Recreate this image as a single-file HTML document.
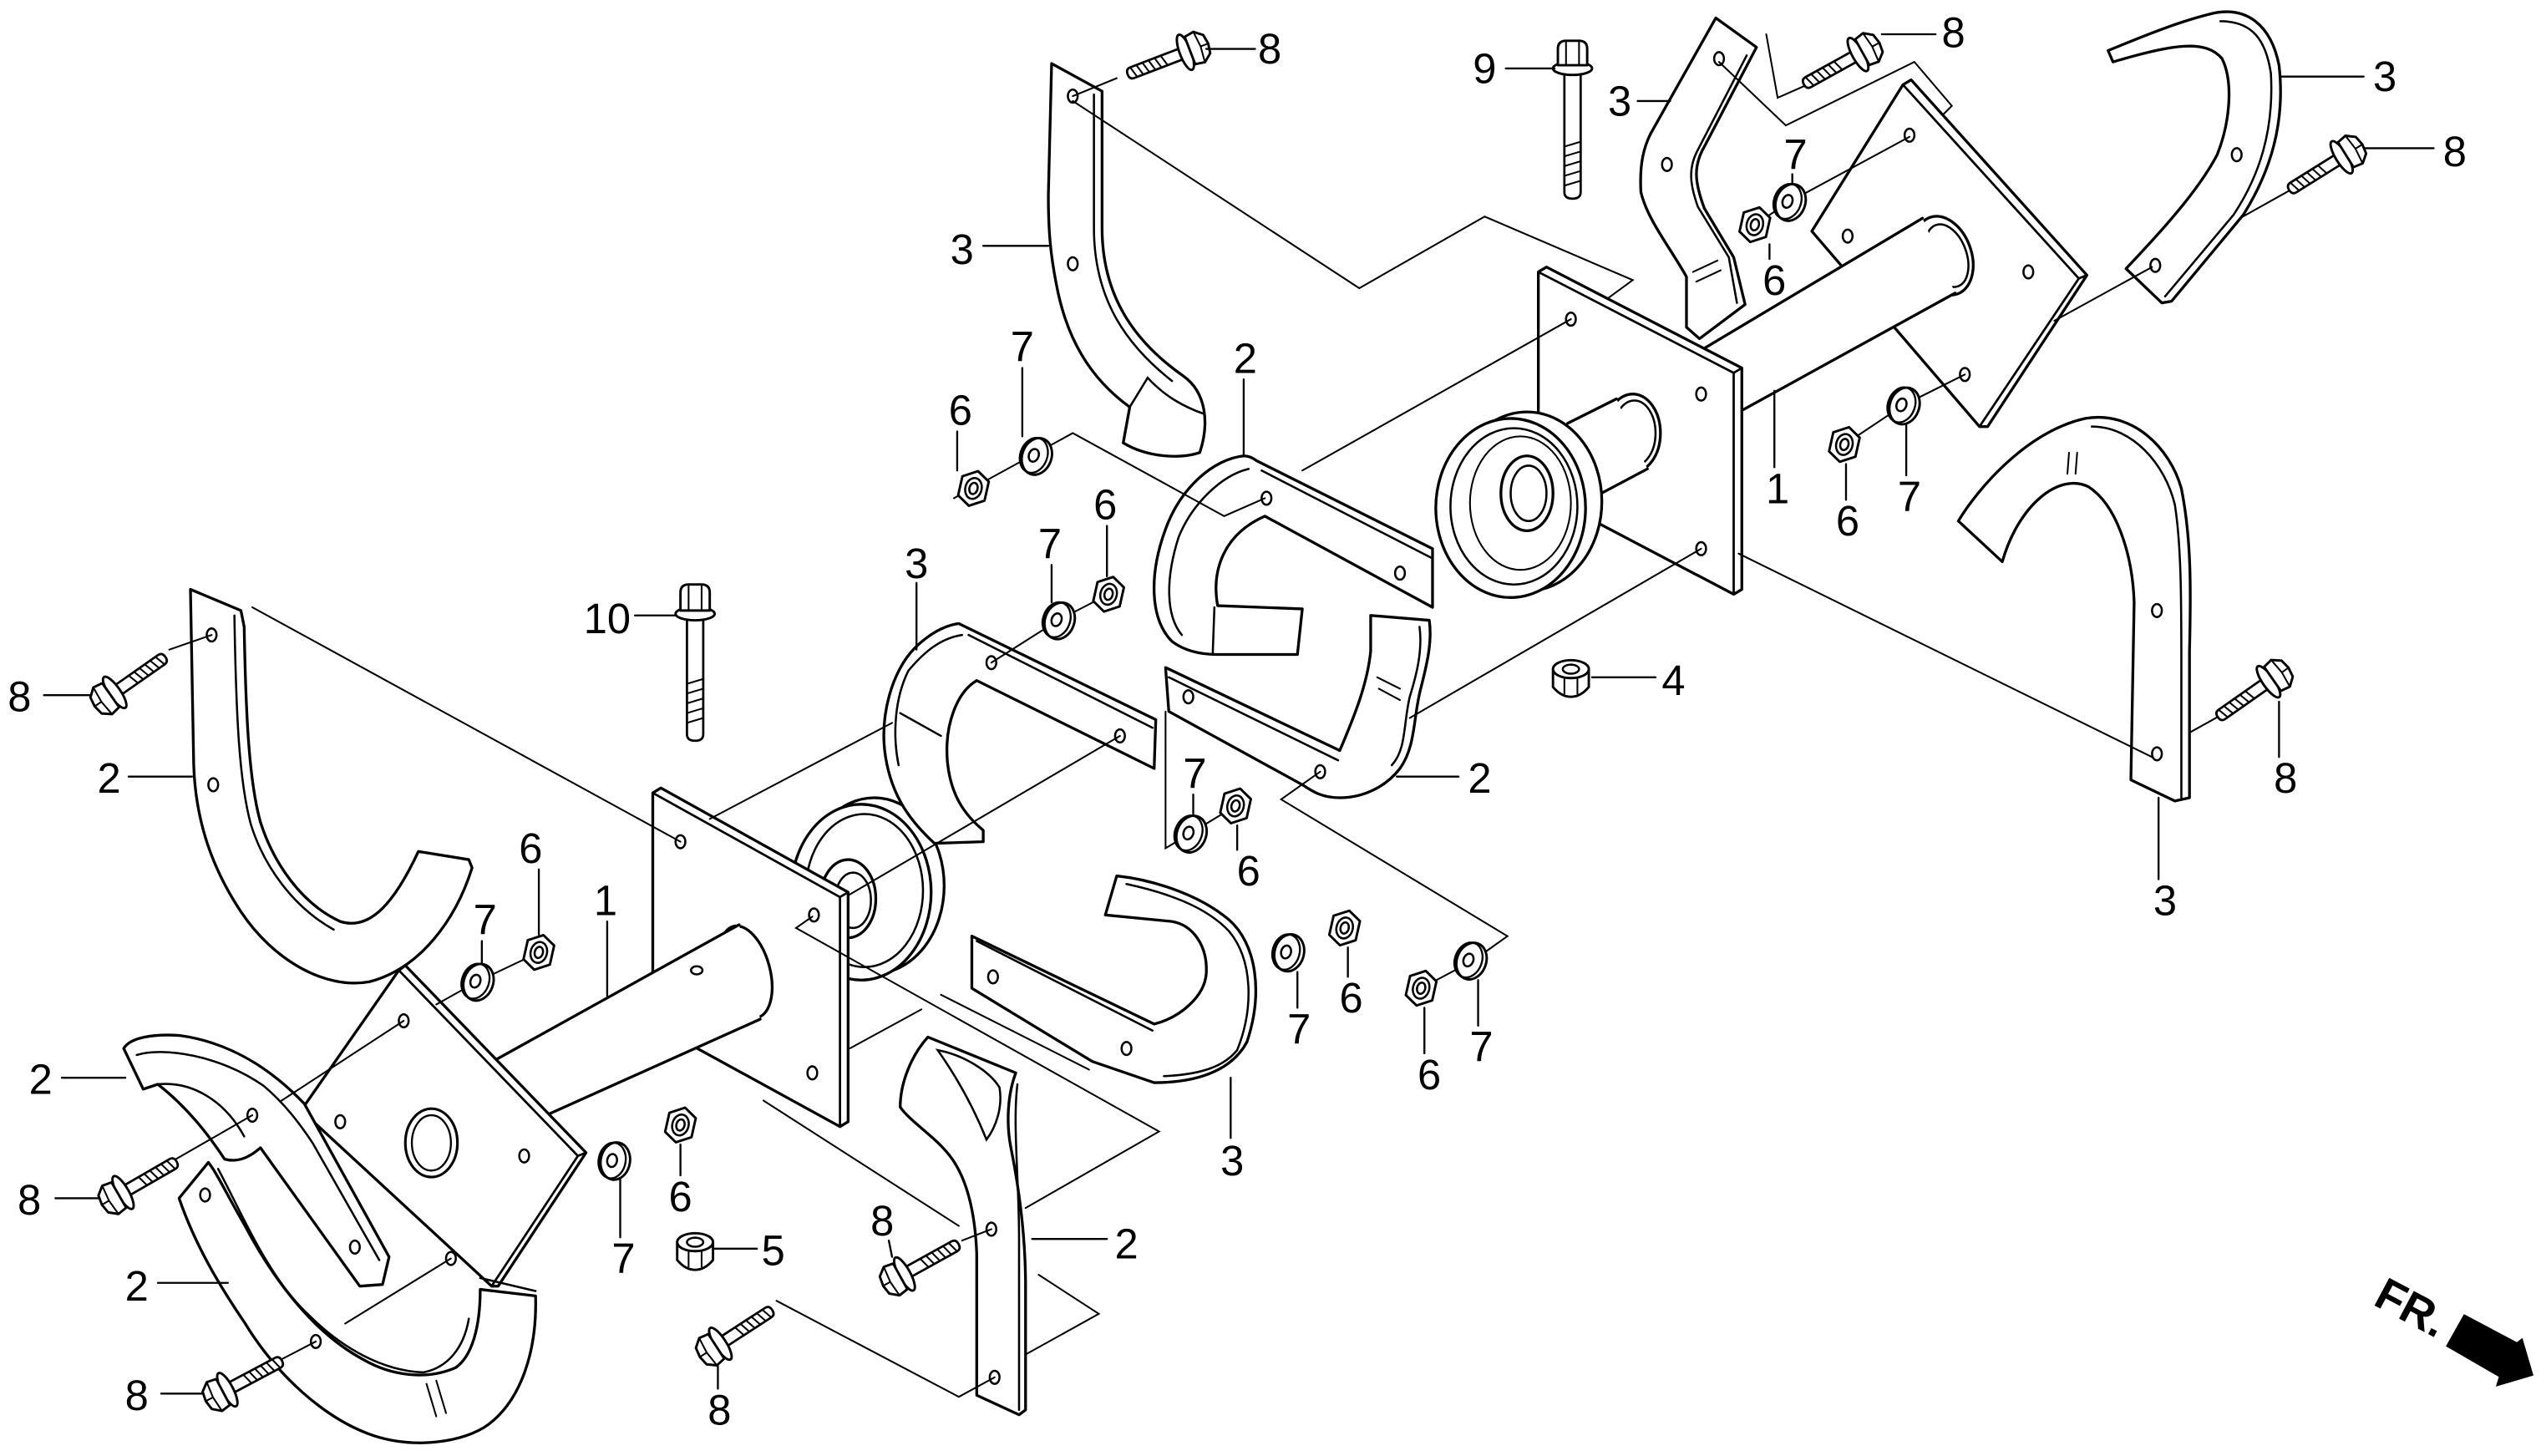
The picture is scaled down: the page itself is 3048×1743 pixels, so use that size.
<!DOCTYPE html>
<html><head><meta charset="utf-8"><style>
html,body{margin:0;padding:0;background:#fff}
svg{display:block}
.p{fill:#fff;stroke:#000;stroke-width:1.7;stroke-linejoin:round}
.l{fill:none;stroke:#000;stroke-width:1.05;stroke-linecap:round}
.m{fill:none;stroke:#000;stroke-width:1.7;stroke-linecap:round}
.h{fill:#fff;stroke:#000;stroke-width:1.3}
.t{font-family:"Liberation Sans",Arial,sans-serif;font-size:26px;text-anchor:middle;fill:#000}
</style></head><body>
<svg width="3048" height="1743" viewBox="0 0 1564 894.3" xmlns="http://www.w3.org/2000/svg">
<defs>
<g id="bolt">
<path class="p" style="stroke-width:1.4" d="M6,-3.5 L38,-3.5 Q41,-3.5 41,0 Q41,3.5 38,3.5 L6,3.5 Z"/>
<path class="l" d="M16,-3.5 l2,7 M20,-3.5 l2,7 M24,-3.5 l2,7 M28,-3.5 l2,7 M32,-3.5 l2,7 M36,-3.5 l2,7"/>
<ellipse class="p" style="stroke-width:1.5" cx="3" cy="0" rx="3.5" ry="11.5"/>
<path class="p" style="stroke-width:1.5" d="M0,-9 L-6,-10 L-11,-6 L-12,0 L-11,6 L-6,10 L0,9 Z"/>
<path class="l" d="M-6,-10 L-7,0 L-6,10 M-12,0 L-7,0"/>
</g>
<g id="nut">
<path class="p" style="stroke-width:1.5" d="M0,-11 L8,-6.5 L8.5,5.5 L0,11 L-8,6.5 L-8.5,-5.5 Z"/>
<ellipse class="h" cx="0" cy="0" rx="5" ry="6.5"/>
<ellipse class="h" cx="0" cy="0" rx="2.5" ry="3.5"/>
</g>
<g id="washer">
<ellipse class="p" style="stroke-width:1.5" cx="1" cy="0" rx="9" ry="11.5"/>
<ellipse class="l" style="stroke-width:1.2" cx="-1" cy="0" rx="8.3" ry="11"/>
<ellipse class="h" cx="-1" cy="0" rx="3" ry="4"/>
</g>
<g id="capnut">
<path class="p" style="stroke-width:1.5" d="M-11,-5 L-11,6 Q-6,12 0,12 Q6,12 11,6 L11,-5 Z"/>
<ellipse class="p" style="stroke-width:1.5" cx="0" cy="-5" rx="11" ry="5.5"/>
<ellipse class="h" cx="0" cy="-5" rx="5" ry="2.8"/>
<path class="l" d="M-4,0 V10 M4,0 V10"/>
</g>
</defs>

<!-- right diamond plate -->
<path class="p" d="M1169,52 L1174,49 L1282,169 L1221,262 L1216,262 L1113,142 Z"/>
<path class="l" style="stroke-width:1.4" d="M1169,52 L1277,171 L1216,262 M1277,171 L1282,169"/>
<ellipse class="h" cx="1173" cy="83" rx="3" ry="4"/>
<ellipse class="h" cx="1135" cy="145" rx="3" ry="4"/>
<ellipse class="h" cx="1246" cy="167" rx="3" ry="4"/>
<ellipse class="h" cx="1207" cy="230" rx="3" ry="4"/>
<!-- right shaft -->
<ellipse class="p" cx="1194" cy="157" rx="17" ry="25" transform="rotate(-20 1194 157)"/>
<ellipse class="l" style="stroke-width:1.3" cx="1196" cy="157" rx="12" ry="20" transform="rotate(-20 1196 157)"/>
<path fill="#fff" d="M1181,134 L1030,224 L1052,262 L1201,180 Z"/>
<path class="m" d="M1181,134 L1030,224 M1201,180 L1052,262"/>
<!-- right front plate -->
<path class="p" d="M945,167 L950,164 L1070,226 L1070,362 L1065,365 L945,302 Z"/>
<path class="l" style="stroke-width:1.4" d="M945,167 L1065,229 L1065,365 M1065,229 L1070,226"/>
<ellipse class="h" cx="965" cy="196" rx="3" ry="4"/>
<ellipse class="h" cx="1045" cy="242" rx="3" ry="4"/>
<ellipse class="h" cx="1045" cy="337" rx="3" ry="4"/>
<!-- small tube -->
<ellipse class="p" cx="1003" cy="266" rx="17" ry="24"/>
<ellipse class="l" style="stroke-width:1.3" cx="1004" cy="266" rx="13" ry="20"/>
<path fill="#fff" d="M963,260 L993,245 L1012,288 L978,306 Z"/>
<path class="m" d="M963,260 L993,245 M978,306 L1012,288"/>
<ellipse class="p" cx="961" cy="270" rx="3" ry="4"/>
<!-- right pulley -->
<ellipse class="p" cx="938" cy="308" rx="46" ry="55"/>
<ellipse class="p" cx="928" cy="312" rx="46" ry="55"/>
<ellipse class="l" style="stroke-width:1.3" cx="930" cy="311" rx="39" ry="48"/>
<ellipse class="l" cx="934" cy="309" rx="31" ry="41"/>
<ellipse class="p" cx="938" cy="303" rx="16" ry="23"/>
<ellipse class="l" style="stroke-width:1.3" cx="939" cy="303" rx="11" ry="17"/>

<!-- upper-left tine 3 -->
<path class="p" d="M646,39 L677,56 L677,140 C677,182 697,210 727,231 C741,241 743,260 737,278 C725,282 705,281 690,272 L694,250 C669,232 655,207 649,175 C645,155 644,140 644,120 Z"/>
<path class="l" style="stroke-width:1.3" d="M672,58 L672,140 C672,184 692,212 720,234 M694,250 L705,232 C716,244 728,250 739,254"/>
<ellipse class="h" cx="659" cy="59" rx="3" ry="4"/>
<ellipse class="h" cx="659" cy="162" rx="3" ry="4"/>

<!-- upper-right-center tine 3 -->
<path class="p" d="M1054,11 L1079,29 L1047,90 C1040,102 1041,112 1047,128 L1065,158 L1072,187 L1044,208 L1036,201 L1036,170 C1026,152 1012,135 1008,118 C1007,100 1010,90 1014,82 Z"/>
<path class="l" style="stroke-width:1.3" d="M1073,34 L1043,92 C1037,103 1038,113 1043,127 L1062,158 L1067,186"/>
<path class="l" d="M1040,167 L1055,160 M1042,173 L1057,166"/>
<ellipse class="h" cx="1056" cy="36" rx="3" ry="4"/>
<ellipse class="h" cx="1024" cy="101" rx="3" ry="4"/>

<!-- top-right tine 3 -->
<path class="p" d="M1295,31 C1310,25 1335,14 1360,8 C1380,4 1395,15 1400,40 C1404,75 1395,105 1378,132 L1334,185 L1328,186 L1306,165 C1325,145 1350,118 1362,95 C1370,75 1372,50 1365,36 C1355,24 1335,27 1298,38 Z"/>
<path class="l" style="stroke-width:1.3" d="M1364,13 C1384,13 1392,25 1395,45 C1397,80 1388,108 1372,132 L1330,182"/>
<ellipse class="h" cx="1374" cy="95" rx="3" ry="4"/>
<ellipse class="h" cx="1324" cy="163" rx="3" ry="4"/>

<!-- bottom-right tine 3 -->
<path class="p" d="M1203,320 C1215,300 1245,265 1281,257 C1310,252 1333,275 1340,300 C1346,330 1346,360 1345,400 L1345,490 L1336,492 L1309,479 L1311,370 C1310,340 1300,310 1283,299 C1265,290 1240,310 1230,345 Z"/>
<path class="l" style="stroke-width:1.3" d="M1285,262 C1310,262 1330,285 1336,310 C1340,335 1340,370 1340,410 L1340,490"/>
<path class="l" d="M1271,278 L1270,291 M1276,278 L1275,291"/>
<ellipse class="h" cx="1325" cy="375" rx="3" ry="4"/>
<ellipse class="h" cx="1325" cy="463" rx="3" ry="4"/>

<!-- upper 2 -->
<path class="p" d="M764,280 C745,282 725,300 716,325 C706,352 706,380 720,394 C728,400 738,402 748,402 L797,402 L800,374 L748,372 C744,350 752,328 777,317 L880,373 L880,337 L772,283 C769,281 767,280 764,280 Z"/>
<path class="l" style="stroke-width:1.3" d="M767,288 C750,292 732,310 724,330 C716,355 716,378 726,390 M775,289 L880,343 M746,373 L745,401"/>
<ellipse class="h" cx="778" cy="306" rx="3" ry="4"/>
<ellipse class="h" cx="860" cy="352" rx="3" ry="4"/>

<!-- lower-right 2 -->
<path class="p" d="M716,410 L823,461 C832,440 840,420 842,400 L842,378 L878,381 C880,395 876,410 873,422 C868,440 870,458 860,472 C850,485 835,490 823,490 C812,490 806,486 800,482 L718,437 Z"/>
<path class="l" style="stroke-width:1.3" d="M718,416 L822,467 M872,385 C874,400 870,415 866,428 C862,445 864,460 855,470"/>
<path class="l" d="M846,416 L860,423 M847,423 L860,430"/>
<ellipse class="h" cx="730" cy="428" rx="3" ry="4"/>
<ellipse class="h" cx="811" cy="474" rx="3" ry="4"/>

<!-- left pulley + hub -->
<ellipse class="p" cx="537" cy="544" rx="43" ry="54"/>
<ellipse class="p" cx="529" cy="548" rx="43" ry="54"/>
<ellipse class="l" style="stroke-width:1.3" cx="531" cy="547" rx="36" ry="47"/>
<ellipse class="p" cx="521" cy="552" rx="17" ry="24"/>
<ellipse class="l" style="stroke-width:1.3" cx="524" cy="553" rx="11" ry="17"/>

<!-- central 3 -->
<path class="p" d="M589,383 L710,442 L709,472 L600,418 C588,425 580,445 582,468 C584,488 592,500 604,510 L604,517 L574,518 C560,505 548,490 544,465 C540,440 548,412 562,398 C570,390 580,384 589,383 Z"/>
<path class="l" style="stroke-width:1.3" d="M591,390 C578,392 568,400 558,412 C550,428 548,450 552,470 M595,390 L708,447 M553,438 L578,452"/>
<ellipse class="h" cx="609" cy="407" rx="3" ry="4"/>
<ellipse class="h" cx="688" cy="452" rx="3" ry="4"/>

<!-- left back plate -->
<path class="p" d="M401,487 L406,484 L521,548 L521,689 L516,692 L401,629 Z"/>
<path class="l" style="stroke-width:1.4" d="M401,487 L516,551 L516,692 M516,551 L521,548"/>
<ellipse class="h" cx="418" cy="517" rx="3" ry="4"/>
<ellipse class="h" cx="500" cy="562" rx="3" ry="4"/>
<ellipse class="h" cx="499" cy="659" rx="3" ry="4"/>

<!-- left shaft -->
<ellipse class="p" cx="458" cy="597" rx="15" ry="29" transform="rotate(-15 458 597)"/>
<path fill="#fff" d="M454,568 L290,659 L320,692 L467,626 Z"/>
<path class="m" d="M454,568 L290,659 M467,626 L320,692"/>
<ellipse class="h" cx="428" cy="596" rx="3.5" ry="2.5"/>

<!-- square plate -->
<path class="p" d="M245,596 L249,593 L360,708 L306,790 L302,790 L185,682 Z"/>
<path class="l" style="stroke-width:1.4" d="M245,596 L355,710 L302,790 M355,710 L360,708"/>
<ellipse class="h" cx="248" cy="627" rx="3" ry="4"/>
<ellipse class="h" cx="209" cy="689" rx="3" ry="4"/>
<ellipse class="h" cx="322" cy="710" rx="3" ry="4"/>
<ellipse class="h" cx="277" cy="773" rx="3" ry="4"/>
<ellipse class="l" style="stroke-width:1.6" cx="265" cy="702" rx="16" ry="21"/>
<ellipse class="l" style="stroke-width:1.2" cx="265" cy="702" rx="12" ry="17"/>

<!-- upper-left 2 -->
<path class="p" d="M117,362 L148,375 L150,385 C151,440 153,480 160,505 C168,530 185,555 209,566 C228,572 243,553 257,523 L288,528 L290,533 C280,565 258,595 227,603 C200,608 168,590 148,560 C128,530 120,500 119,470 Z"/>
<path class="l" style="stroke-width:1.3" d="M144,378 C145,440 147,480 154,506 C162,532 180,557 205,571"/>
<ellipse class="h" cx="130" cy="390" rx="3" ry="4"/>
<ellipse class="h" cx="131" cy="482" rx="3" ry="4"/>

<!-- middle-left 2 -->
<path class="p" d="M76,644 C80,637 95,635 110,636 C140,640 165,655 187,678 L239,772 L235,789 L221,790 L160,705 C152,712 145,714 138,712 C128,697 115,680 97,666 L88,669 Z"/>
<path class="l" style="stroke-width:1.3" d="M84,648 C100,643 135,648 162,667 C175,678 184,690 192,702 L233,774 M97,666 C118,664 138,676 150,698"/>
<ellipse class="h" cx="155" cy="685" rx="3" ry="4"/>
<ellipse class="h" cx="218" cy="766" rx="3" ry="4"/>

<!-- lower-left 2 -->
<path class="p" d="M110,736 L128,714 C133,720 140,735 150,752 C170,790 195,820 223,835 C240,845 262,848 280,840 C290,833 295,815 295,792 L329,796 C330,830 320,860 300,875 C285,886 255,890 230,882 C200,872 170,845 150,812 C135,790 120,765 110,736 Z"/>
<path class="l" style="stroke-width:1.3" d="M134,718 C150,748 165,785 190,808 C210,828 235,842 260,843 C275,840 285,828 288,810 M295,785 L329,793"/>
<path class="l" d="M262,850 L268,870 M268,848 L274,868"/>
<ellipse class="h" cx="126" cy="734" rx="3" ry="4"/>
<ellipse class="h" cx="194" cy="824" rx="3" ry="4"/>

<!-- lower-center 2 -->
<path class="p" d="M570,637 L624,659 C619,672 618,690 621,705 C626,730 630,760 630,790 L630,866 L626,869 L600,857 L600,770 C599,745 594,725 585,712 C575,698 560,690 553,680 C553,665 560,648 570,637 Z"/>
<path class="l" style="stroke-width:1.3" d="M576,645 C592,648 608,658 614,668 C616,680 612,692 606,700 C598,680 588,662 576,645 Z M625,666 C622,690 626,725 626,760 L626,866"/>
<ellipse class="h" cx="609" cy="755" rx="3" ry="4"/>
<ellipse class="h" cx="611" cy="846" rx="3" ry="4"/>

<!-- lower-center 3 -->
<path class="p" d="M686,538 C705,540 735,548 755,565 C772,580 776,610 766,640 C758,655 740,665 709,665 L671,652 L597,607 L597,575 L709,629 C725,625 740,612 741,598 C742,580 732,568 720,566 L679,562 Z"/>
<path class="l" style="stroke-width:1.3" d="M692,543 C715,548 740,556 755,572 C770,590 770,620 760,645 C752,655 738,660 715,661 M600,578 L708,633"/>
<ellipse class="h" cx="610" cy="600" rx="3" ry="4"/>
<ellipse class="h" cx="692" cy="644" rx="3" ry="4"/>

<!-- connectors -->
<g class="l">
<path d="M659,62 L835,177 L912,133 L1003,172 L988,183"/>
<path d="M586,306 L659,266 L752,317 L777,306"/>
<path d="M965,196 L800,289"/>
<path d="M1045,337 L866,441"/>
<path d="M1068,340 L1322,465"/>
<path d="M1262,197 L1322,164"/>
<path d="M1410,115 L1376,134"/>
<path d="M1363,440 L1345,450"/>
<path d="M1056,38 L1097,77 L1176,38 L1199,65 L1194,70"/>
<path d="M1085,21 L1092,60 L1108,53"/>
<path d="M1078,138 L1099,124 L1173,84"/>
<path d="M1133,273 L1169,249 L1207,230"/>
<path d="M155,373 L418,517"/>
<path d="M436,503 L548,444"/>
<path d="M688,452 L521,550"/>
<path d="M681,365 L650,381 L609,407"/>
<path d="M716,437 L716,521 L731,512 L759,495"/>
<path d="M811,474 L787,491 L926,575 L905,590 L873,607"/>
<path d="M578,611 L669,657"/>
<path d="M499,563 L489,570 L712,695 L630,742"/>
<path d="M469,676 L589,753"/>
<path d="M566,620 L522,644"/>
<path d="M638,783 L675,807 L630,832"/>
<path d="M477,799 L589,858 L611,846"/>
<path d="M591,762 L609,755"/>
<path d="M331,585 L293,603 L268,617"/>
<path d="M248,627 L173,676"/>
<path d="M277,773 L212,813"/>
<path d="M108,712 L155,685"/>
<path d="M169,837 L194,824"/>
<path d="M104,399 L130,390"/>
<path d="M686,48 L659,59"/>
</g>

<!-- bolts -->
<use href="#bolt" transform="translate(731,31) rotate(159)"/>
<use href="#bolt" transform="translate(1144,32) rotate(151)"/>
<use href="#bolt" transform="translate(1441,95) rotate(148)"/>
<use href="#bolt" transform="translate(1396,417) rotate(145)"/>
<use href="#bolt" transform="translate(68,427) rotate(-35)"/>
<use href="#bolt" transform="translate(73,734) rotate(-30)"/>
<use href="#bolt" transform="translate(137,855) rotate(-28)"/>
<use href="#bolt" transform="translate(440,827) rotate(-33)"/>
<use href="#bolt" transform="translate(553,784) rotate(-29)"/>

<!-- bolt 9 -->
<path class="p" style="stroke-width:1.4" d="M961,45 L971,45 L971,118 Q971,122 966,122 Q961,122 961,118 Z"/>
<path class="l" d="M961,90 l10,-3 M961,96 l10,-3 M961,102 l10,-3 M961,108 l10,-3 M961,114 l10,-3"/>
<ellipse class="p" style="stroke-width:1.5" cx="966" cy="42" rx="12" ry="4"/>
<path class="p" style="stroke-width:1.5" d="M957,40 L957,30 Q957,25 962,25 L970,25 Q975,25 975,30 L975,40 Z"/>
<path class="l" d="M962,26 V40 M970,26 V40"/>
<!-- bolt 10 -->
<path class="p" style="stroke-width:1.4" d="M422,380 L432,380 L432,451 Q432,455 427,455 Q422,455 422,451 Z"/>
<path class="l" d="M422,420 l10,-3 M422,426 l10,-3 M422,432 l10,-3 M422,438 l10,-3 M422,444 l10,-3"/>
<ellipse class="p" style="stroke-width:1.5" cx="427" cy="377" rx="12" ry="4"/>
<path class="p" style="stroke-width:1.5" d="M418,375 L418,364 Q418,359 423,359 L431,359 Q436,359 436,364 L436,375 Z"/>
<path class="l" d="M423,360 V375 M431,360 V375"/>

<!-- nuts -->
<use href="#nut" transform="translate(598,300) rotate(15)"/>
<use href="#nut" transform="translate(681,365) rotate(15)"/>
<use href="#nut" transform="translate(331,585) rotate(15)"/>
<use href="#nut" transform="translate(418,691) rotate(15)"/>
<use href="#nut" transform="translate(759,495) rotate(15)"/>
<use href="#nut" transform="translate(826,570) rotate(15)"/>
<use href="#nut" transform="translate(873,607) rotate(15)"/>
<use href="#nut" transform="translate(1078,138) rotate(15)"/>
<use href="#nut" transform="translate(1133,273) rotate(15)"/>

<!-- washers -->
<use href="#washer" transform="translate(636,280) rotate(20)"/>
<use href="#washer" transform="translate(650,381) rotate(20)"/>
<use href="#washer" transform="translate(293,603) rotate(20)"/>
<use href="#washer" transform="translate(377,713) rotate(10)"/>
<use href="#washer" transform="translate(731,512) rotate(20)"/>
<use href="#washer" transform="translate(791,585) rotate(15)"/>
<use href="#washer" transform="translate(903,590) rotate(20)"/>
<use href="#washer" transform="translate(1099,124) rotate(20)"/>
<use href="#washer" transform="translate(1169,249) rotate(20)"/>

<use href="#capnut" transform="translate(965,416)"/>
<use href="#capnut" transform="translate(427,768)"/>

<!-- leaders -->
<g class="l" style="stroke-width:1.2">
<path d="M741,30 H771 M925,42 H955 M1156,21 H1189 M1006,62 H1026 M1401,47 H1452 M1453,91 H1495"/>
<path d="M1101,107 V113 M1087,150 V159 M604,151 H644 M628,226 V268 M588,265 V289 M764,233 V280"/>
<path d="M1090,240 V287 M1134,285 V307 M1171,261 V292 M646,347 V370 M680,323 V354 M563,358 V399"/>
<path d="M390,378 H415 M27,427 H56 M79,477 H118 M978,416 H1017 M858,477 H896 M1400,431 V465"/>
<path d="M733,488 V501 M760,507 V522 M331,534 V574 M296,578 V592 M373,566 V612 M1326,490 V540"/>
<path d="M797,597 V619 M828,582 V600 M875,619 V647 M908,602 V630 M756,662 V699"/>
<path d="M38,662 H77 M34,736 H61 M381,724 V760 M418,703 V722 M438,767 H465 M546,762 L548,772"/>
<path d="M634,761 H680 M97,788 H140 M99,856 H125 M441,839 V853"/>
</g>

<!-- labels -->
<g class="t">
<text x="780" y="39">8</text>
<text x="912" y="51">9</text>
<text x="1200" y="29">8</text>
<text x="995" y="71">3</text>
<text x="1465" y="56">3</text>
<text x="1508" y="102">8</text>
<text x="1103" y="104">7</text>
<text x="1090" y="181">6</text>
<text x="591" y="162">3</text>
<text x="628" y="222">7</text>
<text x="590" y="261">6</text>
<text x="765" y="229">2</text>
<text x="1092" y="309">1</text>
<text x="1135" y="329">6</text>
<text x="1173" y="314">7</text>
<text x="645" y="343">7</text>
<text x="679" y="319">6</text>
<text x="563" y="355">3</text>
<text x="373" y="389">10</text>
<text x="12" y="437">8</text>
<text x="67" y="487">2</text>
<text x="1028" y="427">4</text>
<text x="909" y="487">2</text>
<text x="1404" y="487">8</text>
<text x="734" y="484">7</text>
<text x="767" y="544">6</text>
<text x="326" y="530">6</text>
<text x="298" y="574">7</text>
<text x="372" y="562">1</text>
<text x="1330" y="562">3</text>
<text x="798" y="641">7</text>
<text x="830" y="622">6</text>
<text x="878" y="669">6</text>
<text x="910" y="652">7</text>
<text x="757" y="722">3</text>
<text x="25" y="672">2</text>
<text x="18" y="746">8</text>
<text x="383" y="782">7</text>
<text x="418" y="744">6</text>
<text x="475" y="777">5</text>
<text x="542" y="759">8</text>
<text x="692" y="773">2</text>
<text x="84" y="799">2</text>
<text x="84" y="866">8</text>
<text x="442" y="875">8</text>
</g>

<!-- FR arrow -->
<text transform="translate(1457,801) rotate(28)" style="font-family:'Liberation Sans',Arial,sans-serif;font-size:28px;font-weight:bold;fill:#000">FR.</text>
<polygon fill="#000" points="1513.6,807.2 1546.1,824.4 1549.5,821.8 1556.3,844.9 1533.2,851.7 1535,845.7 1502.5,826.9"/>
</svg>
</body></html>
